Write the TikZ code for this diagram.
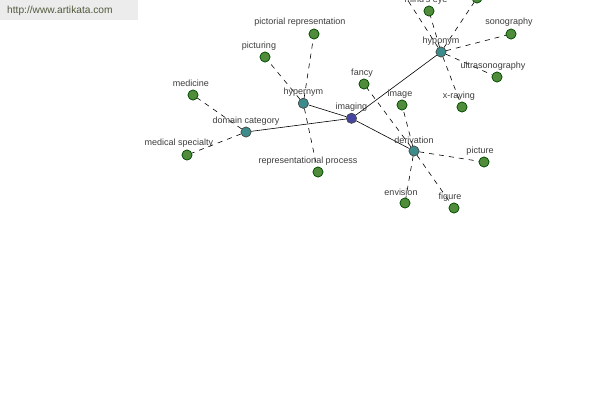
\documentclass[tikz,border=0pt]{standalone}
\usepackage{fontspec}
\setmainfont{Liberation Sans}
\begin{document}
\begin{tikzpicture}[x=1pt,y=-1pt,
  leaf/.style={circle,draw=black!70!green,fill={rgb,255:red,80;green,140;blue,60},inner sep=0pt,minimum size=10pt,line width=0.6pt},
  rel/.style={circle,draw=black!70,fill={rgb,255:red,60;green,140;blue,140},inner sep=0pt,minimum size=10pt,line width=0.6pt},
  hub/.style={circle,draw=black!70,fill={rgb,255:red,70;green,70;blue,160},inner sep=0pt,minimum size=10pt,line width=0.6pt},
  lbl/.style={font=\fontsize{9}{10}\selectfont,text={rgb,255:red,60;green,60;blue,60},inner sep=0pt},
  solidedge/.style={draw=black,line width=0.6pt},
  dashedge/.style={draw=black,line width=0.6pt,dash pattern=on 5pt off 5pt}]
\useasboundingbox (0,0) rectangle (600,400);
\begin{scope}
\clip (0,0) rectangle (600,400);
% nodes
\node[hub] (imaging) at (351.5,118.3) {};
\node[rel] (hypernym) at (303.3,103.3) {};
\node[rel] (domain) at (246,132) {};
\node[rel] (hyponym) at (441,52) {};
\node[rel] (derivation) at (414,151) {};
\node[leaf] (pictrep) at (314,34) {};
\node[leaf] (picturing) at (265,57) {};
\node[leaf] (medicine) at (193,95) {};
\node[leaf] (medspec) at (187,155) {};
\node[leaf] (repproc) at (318,172) {};
\node[leaf] (fancy) at (364,84) {};
\node[leaf] (image) at (402,105) {};
\node[leaf] (envision) at (405,203) {};
\node[leaf] (figure) at (454,208) {};
\node[leaf] (picture) at (484,162) {};
\node[leaf] (xraying) at (462,107) {};
\node[leaf] (ultra) at (497,77) {};
\node[leaf] (sono) at (511,34) {};
\node[leaf] (mindseye) at (429,11) {};
\node[leaf] (topright) at (477,-2) {};
\coordinate (offtop) at (398,-15);
% edges
\path[solidedge] (imaging) -- (hypernym);
\path[solidedge] (imaging) -- (domain);
\path[solidedge] (imaging) -- (hyponym);
\path[solidedge] (imaging) -- (derivation);
\path[dashedge] (hypernym) -- (pictrep);
\path[dashedge] (hypernym) -- (picturing);
\path[dashedge] (hypernym) -- (repproc);
\path[dashedge] (domain) -- (medicine);
\path[dashedge] (domain) -- (medspec);
\path[dashedge] (hyponym) -- (mindseye);
\path[dashedge] (hyponym) -- (offtop);
\path[dashedge] (hyponym) -- (topright);
\path[dashedge] (hyponym) -- (sono);
\path[dashedge] (hyponym) -- (ultra);
\path[dashedge] (hyponym) -- (xraying);
\path[dashedge] (derivation) -- (fancy);
\path[dashedge] (derivation) -- (image);
\path[dashedge] (derivation) -- (envision);
\path[dashedge] (derivation) -- (figure);
\path[dashedge] (derivation) -- (picture);
% redraw nodes on top
\foreach \n/\s in {imaging/hub,hypernym/rel,domain/rel,hyponym/rel,derivation/rel,pictrep/leaf,picturing/leaf,medicine/leaf,medspec/leaf,repproc/leaf,fancy/leaf,image/leaf,envision/leaf,figure/leaf,picture/leaf,xraying/leaf,ultra/leaf,sono/leaf,mindseye/leaf,topright/leaf}
  \node[\s] at (\n) {};
% labels
\node[lbl] (Limaging) at ([yshift=11.5pt]imaging) {imaging};
\node[lbl] (Lhypernym) at ([yshift=11pt]hypernym) {hypernym};
\node[lbl] (Ldomain) at ([yshift=11pt]domain) {domain category};
\node[lbl] (Lhyponym) at ([yshift=11pt]hyponym) {hyponym};
\node[lbl] (Lderivation) at ([yshift=11pt]derivation) {derivation};
\node[lbl] (Lpictrep) at ([xshift=-14pt,yshift=12pt]pictrep) {pictorial representation};
\node[lbl] (Lpicturing) at ([xshift=-6pt,yshift=11pt]picturing) {picturing};
\node[lbl] (Lmedicine) at ([xshift=-2pt,yshift=12pt]medicine) {medicine};
\node[lbl] (Lmedspec) at ([xshift=-8pt,yshift=12pt]medspec) {medical specialty};
\node[lbl] (Lrepproc) at ([xshift=-10pt,yshift=11pt]repproc) {representational process};
\node[lbl] (Lfancy) at ([xshift=-2pt,yshift=11pt]fancy) {fancy};
\node[lbl] (Limage) at ([xshift=-2pt,yshift=11pt]image) {image};
\node[lbl] (Lenvision) at ([xshift=-4pt,yshift=11pt]envision) {envision};
\node[lbl] (Lfigure) at ([xshift=-4pt,yshift=11pt]figure) {figure};
\node[lbl] (Lpicture) at ([xshift=-4pt,yshift=11pt]picture) {picture};
\node[lbl] (Lxraying) at ([xshift=-3pt,yshift=11pt]xraying) {x-raying};
\node[lbl] (Lultra) at ([xshift=-4pt,yshift=11pt]ultra) {ultrasonography};
\node[lbl] (Lsono) at ([xshift=-2pt,yshift=12pt]sono) {sonography};
\node[lbl] (Lmindseye) at ([xshift=-3pt,yshift=11pt]mindseye) {mind's eye};
% watermark
\fill[fill={rgb,255:red,236;green,236;blue,236}] (0,0) rectangle (138,20);
\node[font=\fontsize{10.2}{12}\selectfont,text={rgb,255:red,80;green,90;blue,60},anchor=west,inner sep=0pt] (wm) at (7,11) {http://www.artikata.com};
\end{scope}
\end{tikzpicture}
\end{document}
